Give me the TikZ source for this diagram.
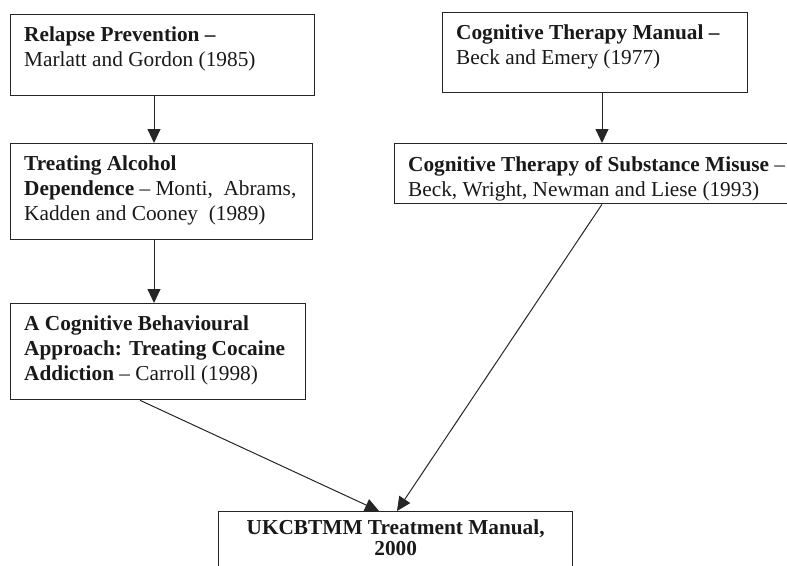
\documentclass[tikz,border=0pt]{standalone}
\usepackage{fontspec}
\setmainfont{Liberation Serif}
\usetikzlibrary{positioning,arrows.meta}

\begin{document}
\begin{tikzpicture}[x=1pt, y=-1pt, node distance=13pt and 14pt,
	book/.style={draw=black!85, line width=1.3pt, anchor=north west, inner sep=0pt},
	blurb/.style={align=left, inner sep=0pt, text=black!90, font=\fontsize{21.3}{25}\selectfont},
	arr/.style={-{Triangle[length=14pt,width=13pt]}, line width=1pt, draw=black!85}]
		\useasboundingbox (0,0) rectangle (787,565);
		\clip (0,0) rectangle (787,565);
		\node(A)[book, minimum width=304pt, minimum height=81pt] at (10,14){};
		\node(B)[book, minimum width=302pt, minimum height=96pt] at (10,143){};
		\node(C)[book, minimum width=295pt, minimum height=96pt] at (10,303){};
		\node(D)[book, minimum width=305pt, minimum height=80pt] at (442,12){};
		\node(E)[book, minimum width=420pt, minimum height=60pt] at (394,143){};
		\node(F)[book, minimum width=354pt, minimum height=80pt] at (218,511){};
		\node(a)[blurb, below right=of A.north west]{\textbf{Relapse Prevention –}\\Marlatt and Gordon (1985)};
		\node(b)[blurb, below right=of B.north west]{\textbf{Treating Alcohol}\\\textbf{Dependence} – Monti,\ \ Abrams,\\Kadden and Cooney\ \ (1989)};
		\node(c)[blurb, below right=of C.north west]{\textbf{A Cognitive Behavioural}\\\textbf{Approach: Treating Cocaine}\\\textbf{Addiction} – Carroll (1998)};
		\node(d)[blurb, below right=of D.north west]{\textbf{Cognitive Therapy Manual –}\\Beck and Emery (1977)};
		\node(e)[blurb, below right=of E.north west]{\textbf{Cognitive Therapy of Substance Misuse} –\\Beck, Wright, Newman and Liese (1993)};
		\node(f)[blurb, align=center, font=\fontsize{21.3}{21}\selectfont, below=9pt of F.north]{\textbf{UKCBTMM Treatment Manual,}\\\textbf{2000}};
		\draw[arr]([xshift=144pt]A.south west) to ([xshift=144pt]B.north west);
		\draw[arr]([xshift=144pt]B.south west) to ([xshift=144pt]C.north west);
		\draw[arr]([xshift=160pt]D.south west) to ([xshift=208pt]E.north west);
		\draw[arr]([xshift=130pt]C.south west) to ([xshift=161pt]F.north west);
		\draw[arr]([xshift=208pt]E.south west) to ([xshift=179pt]F.north west);
	\end{tikzpicture}
\end{document}
